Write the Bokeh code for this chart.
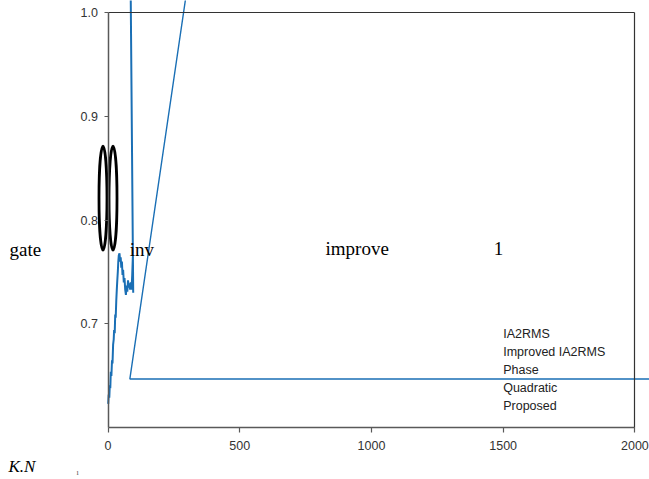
from bokeh.plotting import figure
from bokeh.models import LinearAxis, FixedTicker, Range1d, PrintfTickFormatter
from bokeh.core.properties import value
from bokeh.embed import file_html
from bokeh.resources import INLINE

# ---------------- data ----------------
x_ticks = [0, 500, 1000, 1500, 2000]
y_ticks = [0.7, 0.8, 0.9, 1.0]
series_names = ["IA2RMS", "Improved IA2RMS", "Phase", "Quadratic", "Proposed"]

trace_x = [0.8, 2.7, 4.9, 6.8, 8.7, 10.6, 12.9, 15.2, 17.1, 19.4, 21.7, 23.2, 25.5,
           27.4, 29.2, 31.5, 33.4, 35.3, 37.2, 39.1, 41.0, 43.7, 46.0, 48.2, 50.5,
           52.8, 55.1, 57.4, 60.0, 62.7, 65.3, 68.0, 70.7, 73.3, 76.0, 78.6, 81.3,
           84.0, 86.6, 89.3, 91.9, 94.2, 95.7, 86.2]
trace_y = [0.623, 0.632, 0.629, 0.641, 0.638, 0.654, 0.650, 0.665, 0.662, 0.680,
           0.685, 0.694, 0.691, 0.709, 0.706, 0.723, 0.733, 0.742, 0.750, 0.760,
           0.766, 0.768, 0.760, 0.764, 0.754, 0.760, 0.747, 0.752, 0.740, 0.744,
           0.733, 0.728, 0.737, 0.731, 0.742, 0.735, 0.739, 0.733, 0.740, 0.733,
           0.747, 0.764, 0.730, 1.017]

drift_x = [2100, 83, 300]
drift_y = [0.647, 0.647, 1.0225]

glyph_x = [-19, 19]
glyph_y = [0.821, 0.821]

word_text = ["gate", "inv", "improve", "1"]
word_x = [-374, 82.7, 825.6, 1464]
word_y = [0.7716, 0.7716, 0.7726, 0.7726]

note_text = ["K.N"]
note_x = [-378]
note_y = [0.5532]

mark_text = ["ı"]
mark_x = [-120]
mark_y = [0.5528]

# ---------------- layout ----------------
W, H = 649, 479
X0PX, XSCALE = 107.5, 0.26345
Y1PX, YSCALE = 11.7, 1039.0
BLUE = "#1a6fb5"
AXIS = "#595959"
TXT = "#333333"

p = figure(width=W, height=H, output_backend="svg", toolbar_location=None,
           title=None,
           x_range=Range1d(-X0PX / XSCALE, (W - X0PX) / XSCALE),
           y_range=Range1d(1.0 - (H - Y1PX) / YSCALE, 1.0 + Y1PX / YSCALE),
           min_border=0, x_axis_type=None, y_axis_type=None)
p.outline_line_color = None
p.background_fill_color = "white"
p.border_fill_color = "white"

xa = LinearAxis(fixed_location=0.6, bounds=(0, 2000), ticker=FixedTicker(ticks=x_ticks),
                formatter=PrintfTickFormatter(format="%d"))
ya = LinearAxis(fixed_location=0, bounds=(0.6, 1.0), ticker=FixedTicker(ticks=y_ticks),
                formatter=PrintfTickFormatter(format="%.1f"))
for ax, out, so in ((xa, 5, 8), (ya, 4, 6)):
    ax.axis_line_color = AXIS
    ax.axis_line_width = 1.5
    ax.major_tick_line_color = AXIS
    ax.major_tick_line_width = 1.2
    ax.major_tick_out = out
    ax.major_tick_in = 0
    ax.minor_tick_line_color = None
    ax.major_label_text_font = "Liberation Sans"
    ax.major_label_text_font_size = "12.5px"
    ax.major_label_text_color = TXT
    ax.major_label_standoff = so
p.add_layout(xa, "below")
p.add_layout(ya, "left")

ta = LinearAxis(fixed_location=1.0, bounds=(0, 2000), ticker=FixedTicker(ticks=[]))
ra = LinearAxis(fixed_location=2000, bounds=(0.6, 1.0), ticker=FixedTicker(ticks=[]))
for ax in (ta, ra):
    ax.axis_line_color = "#333333"
    ax.axis_line_width = 1.2
    ax.major_tick_line_color = None
    ax.minor_tick_line_color = None
p.add_layout(ta, "above")
p.add_layout(ra, "right")

p.line(trace_x, trace_y, line_color=BLUE, line_width=2)
p.line(drift_x, drift_y, line_color=BLUE, line_width=1.4)

p.ellipse(x=glyph_x, y=glyph_y, width=8, height=104, width_units="screen",
          height_units="screen", fill_color=None, line_color="black", line_width=2.8)

p.text(x=word_x, y=word_y, text=word_text, text_font=value("Liberation Serif"),
       text_font_size="19px", text_color="black", text_align="left",
       text_baseline="alphabetic")
p.text(x=note_x, y=note_y, text=note_text, text_font=value("Liberation Serif"),
       text_font_size="17px", text_font_style="italic", text_color="black",
       text_align="left", text_baseline="bottom")
p.text(x=mark_x, y=mark_y, text=mark_text, text_font=value("Liberation Serif"),
       text_font_size="8px", text_color="#555555",
       text_align="left", text_baseline="bottom")

leg_x = [1500] * len(series_names)
leg_y = [0.6903 - i * 0.01722 for i in range(len(series_names))]
p.text(x=leg_x, y=leg_y, text=series_names, text_font=value("Liberation Sans"),
       text_font_size="12.5px", text_color="#222222", text_align="left",
       text_baseline="alphabetic")

open("out.html", "w").write(file_html(p, INLINE))
